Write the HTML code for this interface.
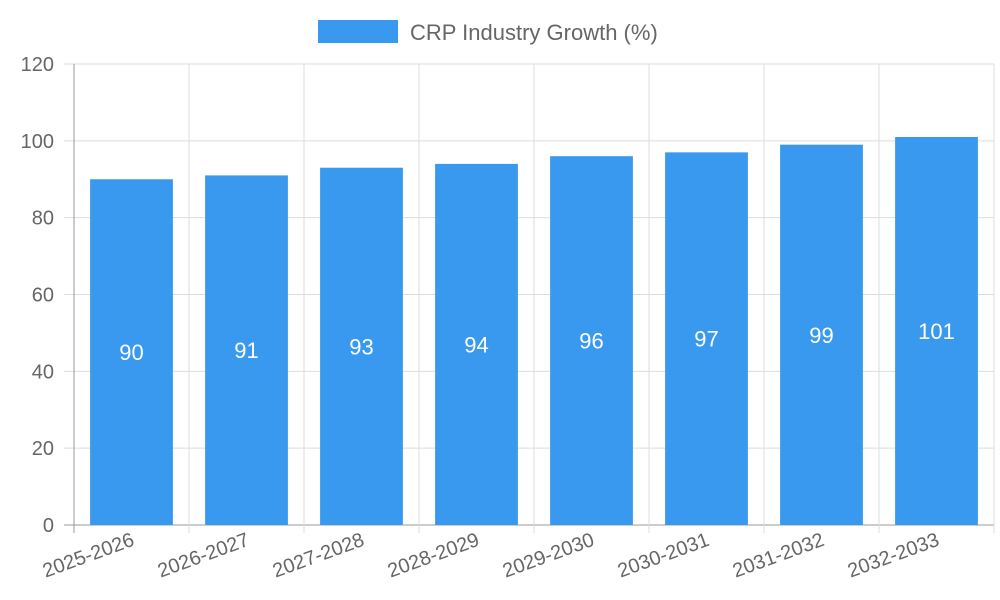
<!DOCTYPE html>
<html><head><meta charset="utf-8"><style>
html,body{margin:0;padding:0;background:#fff}
svg{display:block;font-family:"Liberation Sans",Arial,sans-serif}
</style></head><body>
<svg id="chart" width="1000" height="600">
<g id="grid"></g>
<g id="bars"></g>
<g id="axes"></g>
<g>
<rect x="318" y="20" width="80" height="23" fill="#3899ef"></rect>
<text x="410" y="40" font-size="22" fill="#666">CRP Industry Growth (%)</text>
</g>
</svg>
<script>
const categories=["2025-2026","2026-2027","2027-2028","2028-2029","2029-2030","2030-2031","2031-2032","2032-2033"];
const values=[90,91,93,94,96,97,99,101];
const yTicks=[0,20,40,60,80,100,120];
const X0=74,X1=994,Y0=525,Y1=64,YMAX=120;
const ns="http://www.w3.org/2000/svg";
const band=(X1-X0)/categories.length;
const xs=i=>X0+band*i;
const ys=v=>Y0-(v/YMAX)*(Y0-Y1);
function mk(t,a,p){const e=document.createElementNS(ns,t);for(const k in a)e.setAttribute(k,a[k]);p.appendChild(e);return e;}
const grid=document.getElementById('grid'),bars=document.getElementById('bars'),axes=document.getElementById('axes');
yTicks.forEach(t=>{
 const y=ys(t);
 const l=mk('line',{x1:64,x2:X1,y1:y,y2:y,stroke:t===0?'#999':'#ddd','stroke-width':1},grid);
 
 
 const tx=mk('text',{x:54,y:y+7,'text-anchor':'end','font-size':20,fill:'#666'},axes);
 tx.textContent=t;
 
 
});
for(let i=0;i<=categories.length;i++){
 const x=xs(i);
 const l=mk('line',{x1:x,x2:x,y1:Y1,y2:533,stroke:i===0?'#999':'#ddd','stroke-width':1},grid);
 
 
}
categories.forEach((c,i)=>{
 const bw=band*0.72,x=xs(i)+(band-bw)/2,y=ys(values[i]);
 const r=mk('rect',{x:x,y:y,width:bw,height:Y0-y,fill:'#3899ef'},bars);
 
 
 const v=mk('text',{x:xs(i)+band/2,y:(y+Y0)/2+8,'text-anchor':'middle','font-size':22,fill:'#fff'},bars);
 v.textContent=values[i];
 
 
 const cx=xs(i)+band/2+4,cy=545;
 const t=mk('text',{x:cx,y:cy,'text-anchor':'end','font-size':20,fill:'#666',transform:`rotate(-20 ${cx} ${cy})`},axes);
 t.textContent=c;
 
 
});
</script>
</body></html>
